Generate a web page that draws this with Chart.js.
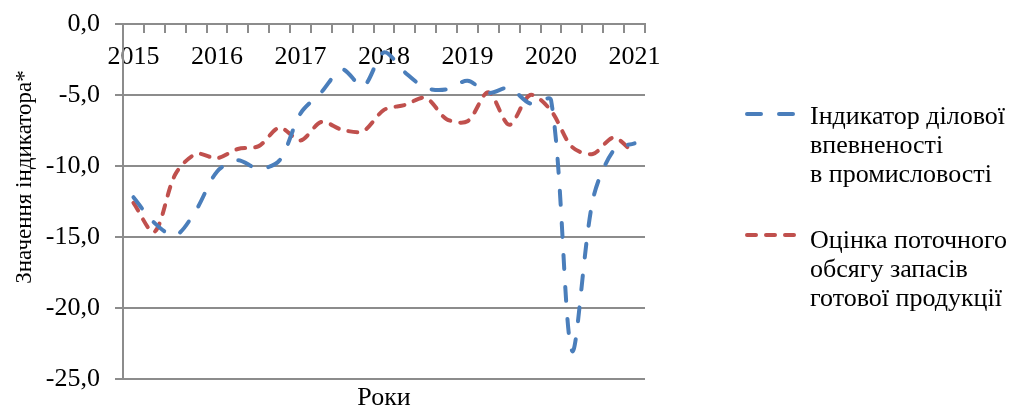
<!DOCTYPE html>
<html>
<head>
<meta charset="utf-8">
<script src="https://cdn.jsdelivr.net/npm/chart.js@4/dist/chart.umd.min.js"></script>
<style>
  html, body { margin: 0; padding: 0; background: #fff; }
  #wrap { width: 1016px; height: 409px; }
</style>
</head>
<body>
<div id="wrap"><canvas id="chart"></canvas></div>
<script>
// Квартали 2015 Q1 – 2021 Q1, підписи лише для першого кварталу року
var labels = ['2015','','','','2016','','','','2017','','','','2018','','','','2019','','','','2020','','','','2021'];

// Індикатор ділової впевненості в промисловості
var indykator = [-12.2, -14.0, -14.9, -13.1, -10.4, -9.6, -10.2, -9.6, -6.3, -4.8, -3.2, -4.4, -2.0,
                 -3.4, -4.5, -4.6, -4.0, -4.85, -4.5, -5.6, -5.35, -23.0, -12.4, -8.9, -8.4];

// Оцінка поточного обсягу запасів готової продукції
var zapasy = [-12.6, -14.65, -10.6, -9.15, -9.45, -8.8, -8.6, -7.3, -8.2, -6.9, -7.45, -7.55, -6.05,
              -5.7, -5.2, -6.7, -6.85, -4.8, -7.1, -5.0, -6.1, -8.65, -9.15, -8.0, -9.15];

var legendLines = [
  ['Індикатор ділової', 'впевненості', 'в промисловості'],
  ['Оцінка поточного', 'обсягу запасів', 'готової продукції']
];
var yTitle = 'Значення індикатора*';

var FONT = "'Liberation Serif', 'Times New Roman', serif";
var GRID = '#8c8c8c';

// легенда праворуч з багаторядковими підписами + підпис осі Y
var legendaPlugin = {
  id: 'legenda',
  afterDraw: function (chart) {
    var ctx = chart.ctx;
    var rows = [{ text: 117, line: 114 }, { text: 241, line: 235 }];
    ctx.save();
    chart.data.datasets.forEach(function (ds, i) {
      var r = rows[i];
      ctx.strokeStyle = ds.borderColor;
      ctx.lineWidth = ds.borderWidth;
      ctx.lineCap = 'round';
      ctx.setLineDash(ds.borderDash);
      ctx.beginPath();
      ctx.moveTo(747, r.line);
      ctx.lineTo(797, r.line);
      ctx.stroke();
      ctx.setLineDash([]);
      ctx.fillStyle = '#000';
      ctx.font = '26px ' + FONT;
      ctx.textAlign = 'left';
      ctx.textBaseline = 'middle';
      legendLines[i].forEach(function (t, k) {
        ctx.fillText(t, 810, r.text + k * 29);
      });
    });

    ctx.translate(25, 177);
    ctx.rotate(-Math.PI / 2);
    ctx.font = '23px ' + FONT;
    ctx.textAlign = 'center';
    ctx.textBaseline = 'middle';
    ctx.fillStyle = '#000';
    ctx.fillText(yTitle, 0, 0);
    ctx.restore();
  }
};

new Chart(document.getElementById('chart'), {
  type: 'line',
  data: {
    labels: labels,
    datasets: [{
      label: 'Індикатор ділової впевненості в промисловості',
      data: indykator,
      borderColor: '#4a7ebb',
      borderWidth: 4,
      borderDash: [14, 18],
      borderCapStyle: 'round',
      pointRadius: 0,
      tension: 0.3,
      fill: false
    }, {
      label: 'Оцінка поточного обсягу запасів готової продукції',
      data: zapasy,
      borderColor: '#c0504d',
      borderWidth: 4,
      borderDash: [9, 10],
      borderCapStyle: 'round',
      pointRadius: 0,
      tension: 0.3,
      fill: false
    }]
  },
  options: {
    responsive: true,
    maintainAspectRatio: false,
    animation: false,
    layout: { padding: { left: 0, top: 24, right: 371, bottom: 0 } },
    plugins: {
      legend: { display: false },
      tooltip: { enabled: false }
    },
    scales: {
      x: {
        position: { y: 0 },
        offset: true,
        grid: { offset: true, drawOnChartArea: false, drawTicks: true, tickLength: 8, color: GRID, lineWidth: 2 },
        border: { display: true, color: GRID, width: 2 },
        ticks: {
          autoSkip: false, maxRotation: 0, minRotation: 0, padding: 10,
          color: '#000', font: { family: FONT, size: 26 }
        }
      },
      x2: {
        type: 'category',
        position: 'bottom',
        labels: labels,
        grid: { display: false, drawTicks: false },
        border: { display: false },
        ticks: { display: false },
        title: {
          display: true,
          text: 'Роки',
          color: '#000',
          font: { family: FONT, size: 26, lineHeight: 0.846 },
          padding: { top: 8, bottom: 0 }
        }
      },
      y: {
        min: -25,
        max: 0,
        afterFit: function (scale) {
          scale.width = 123;
          scale.paddingTop = 0;
          scale.paddingBottom = 0;
        },
        grid: { color: GRID, lineWidth: 2, tickLength: 8 },
        border: { display: true, color: GRID, width: 2 },
        ticks: {
          stepSize: 5, padding: 15, color: '#000',
          font: { family: FONT, size: 26 },
          callback: function (v) { return v.toFixed(1).replace('.', ','); }
        }
      }
    }
  },
  plugins: [legendaPlugin]
});
</script>
</body>
</html>
